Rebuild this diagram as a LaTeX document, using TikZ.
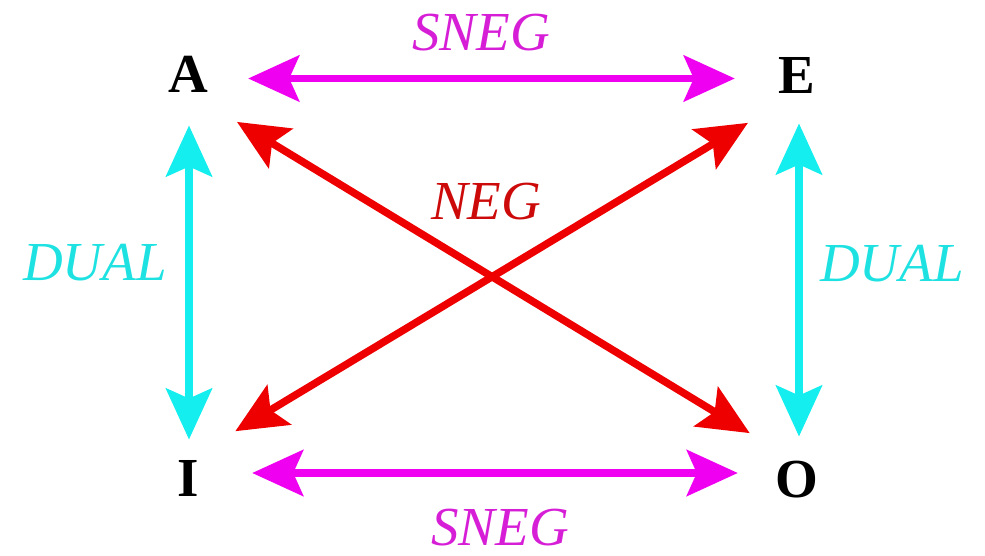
\documentclass[tikz,border=0pt]{standalone}
\usepackage{fontspec}
\setmainfont{Liberation Serif}
\usetikzlibrary{arrows.meta}
\definecolor{magline}{RGB}{240,0,240}
\definecolor{magtext}{RGB}{215,30,215}
\definecolor{cyanline}{RGB}{20,238,238}
\definecolor{cyantext}{RGB}{30,225,225}
\definecolor{redline}{RGB}{238,0,0}
\definecolor{redtext}{RGB}{205,10,10}
\tikzset{
  corner/.style={rectangle, inner sep=0pt, minimum width=60pt, minimum height=72.6pt,
    font=\fontsize{55}{58}\selectfont\bfseries, text=black},
  lbl/.style={inner sep=0pt, font=\fontsize{55}{60}\selectfont\itshape},
  dbl/.style={line width=7.5pt, {Stealth[length=51pt,width=46pt,inset=10pt]}-{Stealth[length=51pt,width=46pt,inset=10pt]}},
}
\begin{document}
\begin{tikzpicture}[x=1pt,y=-1pt]
\useasboundingbox (0,0) rectangle (985,556);
% corner letters
\node[corner] (A) at (188,74) {A};
\node[corner] (E) at (797,75) {E};
\node[corner] (I) at (188,478) {I};
\node[corner] (O) at (797,480) {O};
% labels
\node[lbl, text=magtext] (sn1) at (481,33) {SNEG};
\node[lbl, text=magtext] (sn2) at (500,528) {SNEG};
\node[lbl, text=cyantext] (du1) at (95,263) {DUAL};
\node[lbl, text=cyantext] (du2) at (892,264) {DUAL};
\node[lbl, text=redtext] (ng) at (486,202) {NEG};
% SNEG arrows
\draw[dbl, magline, shorten <=30pt, shorten >=32pt] ([yshift=-4.5pt]A.east) -- ([yshift=-3.5pt]E.west);
\draw[dbl, magline, shorten <=34pt, shorten >=29pt] ([yshift=5pt]I.east) -- ([yshift=7pt]O.west);
% DUAL arrows
\draw[dbl, cyanline, shorten <=15pt, shorten >=2pt] ([xshift=1pt]A.south) -- ([xshift=1pt]I.north);
\draw[dbl, cyanline, shorten <=12pt, shorten >=7pt] ([xshift=2pt]E.south) -- ([xshift=2pt]O.north);
% NEG arrows
\draw[dbl, redline, shorten <=22pt, shorten >=20pt] (A.south east) -- (O.north west);
\draw[dbl, redline, shorten <=20pt, shorten >=22pt] (I.north east) -- (E.south west);
\end{tikzpicture}
\end{document}
